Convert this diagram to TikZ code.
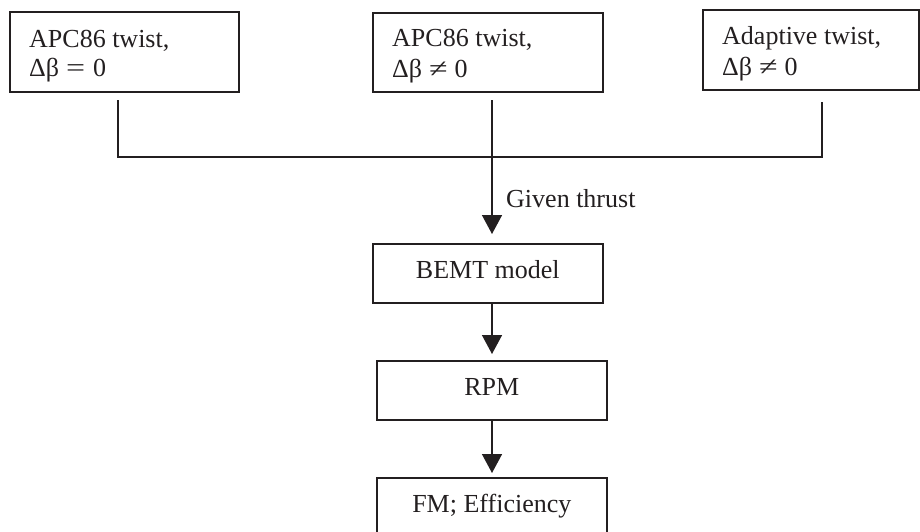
\documentclass[tikz,border=0pt]{standalone}
\usepackage{graphicx}
\usepackage{fontspec}
\setmainfont{Liberation Serif}
\usetikzlibrary{arrows.meta}
\definecolor{ink}{HTML}{231F20}
\newcommand{\wideeq}{\hspace{7pt}\scalebox{1.3}[1]{=}\hspace{8pt}}
\newcommand{\wideneq}{\hspace{7pt}\scalebox{1.3}[1]{≠}\hspace{7pt}}
\begin{document}
\begin{tikzpicture}[x=1pt,y=-1pt,
  every node/.style={font=\fontsize{26}{30}\selectfont, text=ink},
  boxnode/.style={draw=ink, line width=1.6pt, inner sep=0pt, anchor=north west},
  lowbox/.style={boxnode, minimum width=230pt, minimum height=59pt, text height=19pt, text depth=8pt},
  linetext/.style={anchor=base west, inner sep=0pt},
  conn/.style={draw=ink, line width=1.5pt},
  arr/.style={conn, -{Triangle[length=19pt,width=20pt]}}
]
\useasboundingbox (0,0) rectangle (920,531);

% top boxes
\node[boxnode, minimum width=229pt, minimum height=80pt] (b1) at (9,11) {};
\node[linetext] (t1a) at (29,47) {APC86 twist,};
\node[linetext] (t1b) at (29,76) {Δβ\wideeq 0};

\node[boxnode, minimum width=230pt, minimum height=79pt] (b2) at (372,12) {};
\node[linetext] (t2a) at (392,46) {APC86 twist,};
\node[linetext] (t2b) at (392,77) {Δβ\wideneq 0};

\node[boxnode, minimum width=216pt, minimum height=80pt] (b3) at (702,9) {};
\node[linetext] (t3a) at (722,44) {Adaptive twist,};
\node[linetext] (t3b) at (722,75) {Δβ\wideneq 0};

% lower boxes
\node[lowbox] (bemt) at (372,243) {\makebox[230pt]{BEMT model}};
\node[lowbox] (rpm) at (376,360) {\makebox[230pt]{RPM}};
\node[lowbox] (fm) at (376,477) {\makebox[230pt]{FM; Efficiency}};

% connector points
\coordinate (s1) at (118,100);
\coordinate (s2) at (492,100);
\coordinate (s3) at (822,102);
\coordinate (j1) at (118,157);
\coordinate (j3) at (822,157);

\draw[conn] (s1) -- (j1) -- (j3) -- (s3);
\draw[arr, shorten >=9pt] (s2) -- (s2 |- bemt.north);
\draw[arr, shorten >=6pt] (s2 |- bemt.south) -- (s2 |- rpm.north);
\draw[arr, shorten >=4pt] (s2 |- rpm.south) -- (s2 |- fm.north);

\node[linetext] (given) at (506,207) {Given thrust};
\end{tikzpicture}
\end{document}
